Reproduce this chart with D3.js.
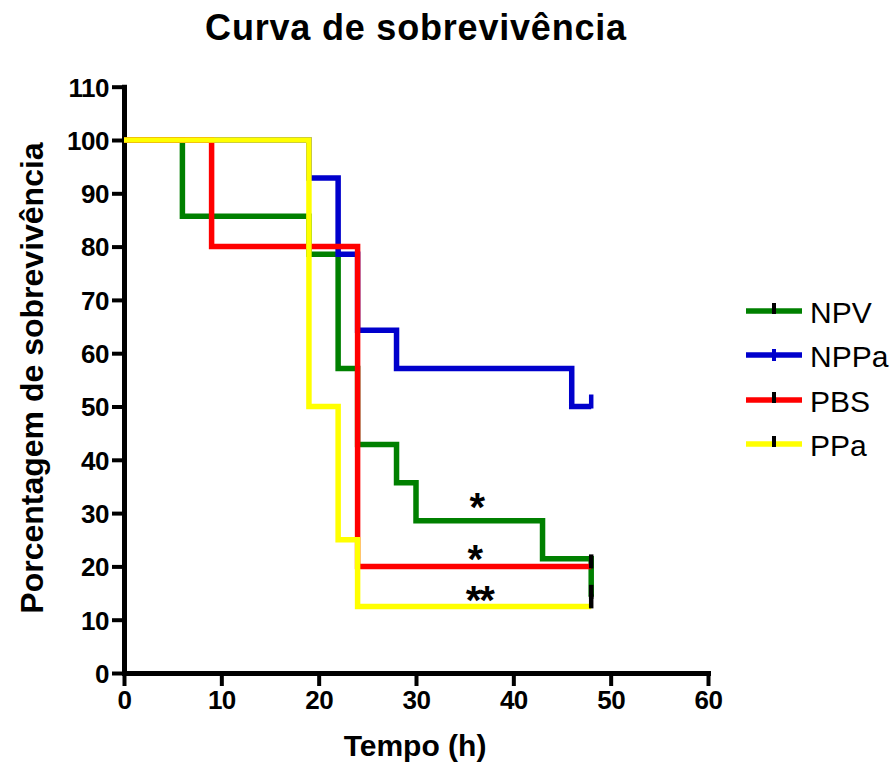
<!DOCTYPE html>
<html>
<head>
<meta charset="utf-8">
<script src="https://cdn.jsdelivr.net/npm/d3@7"></script>
<style>
  html, body { margin: 0; padding: 0; background: #fff; }
  svg { display: block; font-family: "Liberation Sans", Arial, sans-serif; }
</style>
</head>
<body>
<svg id="chart" width="894" height="764"></svg>
<script>
// ---- data ----
const seriesNames = ["NPV", "NPPa", "PBS", "PPa"];
const seriesColors = ["#008000", "#0000CC", "#FF0000", "#FFFF00"];
const censorColors = ["#000000", "#0000CC", "#000000", "#000000"];

const npvTimes = [0, 6, 19, 22, 24, 28, 30, 43, 48];
const npvSurv  = [100, 85.71, 78.57, 57.14, 42.86, 35.71, 28.57, 21.43, 14.29];
const nppaTimes = [0, 19, 22, 24, 28, 46, 48];
const nppaSurv  = [100, 92.86, 78.57, 64.29, 57.14, 50, 50];
const pbsTimes = [0, 9, 24, 48];
const pbsSurv  = [100, 80, 20, 20];
const ppaTimes = [0, 19, 22, 24, 48];
const ppaSurv  = [100, 50, 25, 12.5, 12.5];

const censorTimes = [48, 48, 48, 48];
const censorSurv  = [14.29, 50, 20, 12.5];

const xTicks = [0, 10, 20, 30, 40, 50, 60];
const yTicks = [0, 10, 20, 30, 40, 50, 60, 70, 80, 90, 100, 110];

const sigLabels = ["*", "*", "**"];
const sigTimes = [36.2, 36.0, 36.5];
const sigSurv  = [32.5, 22.7, 15.0];

// ---- chart ----
const svg = d3.select("#chart");
const x = d3.scaleLinear().domain([0, 60]).range([124, 708]);
const y = d3.scaleLinear().domain([0, 110]).range([673, 86.7]);

const allTimes = [npvTimes, nppaTimes, pbsTimes, ppaTimes];
const allSurv = [npvSurv, nppaSurv, pbsSurv, ppaSurv];
const series = seriesNames.map((n, i) => ({
  name: n, color: seriesColors[i], censorColor: censorColors[i],
  pts: allTimes[i].map((t, j) => [t, allSurv[i][j]]),
  censor: [censorTimes[i], censorSurv[i]]
}));

// title
svg.append("text").attr("x", 416).attr("y", 40).attr("text-anchor", "middle")
  .attr("font-size", 36).attr("font-weight", "bold").attr("letter-spacing", 0.8)
  .text("Curva de sobrevivência");

// axes
const xAxis = d3.axisBottom(x).tickValues(xTicks).tickSize(13).tickSizeOuter(0).tickPadding(4);
const yAxis = d3.axisLeft(y).tickValues(yTicks).tickSize(12).tickSizeOuter(0).tickPadding(3);

const gx = svg.append("g").attr("transform", "translate(0,673)").call(xAxis);
const gy = svg.append("g").attr("transform", "translate(124,0)").call(yAxis);
[gx, gy].forEach(g => {
  g.select(".domain").attr("stroke", "#000").attr("stroke-width", 5).attr("stroke-linecap", "square");
  g.selectAll(".tick line").attr("stroke", "#000").attr("stroke-width", 4);
  g.selectAll(".tick text").attr("font-size", 26).attr("font-weight", "bold")
    .attr("fill", "#000").attr("font-family", "Liberation Sans, Arial, sans-serif")
    .attr("letter-spacing", -0.5);
});
gy.selectAll(".tick text").attr("dy", "0.36em");
gx.selectAll(".tick text").attr("dy", "0.74em");

// axis titles
svg.append("text").attr("x", 415).attr("y", 756).attr("text-anchor", "middle")
  .attr("font-size", 30).attr("font-weight", "bold").text("Tempo (h)");
svg.append("text").attr("transform", "translate(43,378) rotate(-90)").attr("text-anchor", "middle")
  .attr("font-size", 32).attr("font-weight", "bold").text("Porcentagem de sobrevivência");

// curves
const line = d3.line().x(d => x(d[0])).y(d => y(d[1])).curve(d3.curveStepAfter);
series.forEach(s => {
  svg.append("path").attr("d", line(s.pts)).attr("fill", "none")
    .attr("stroke", s.color).attr("stroke-width", 5.5).attr("stroke-linejoin", "miter");
});

// censor marks
series.forEach(s => {
  const cx = x(s.censor[0]), cy = y(s.censor[1]);
  svg.append("line").attr("x1", cx).attr("x2", cx)
    .attr("y1", cy - 12).attr("y2", cy + 2)
    .attr("stroke", s.censorColor).attr("stroke-width", 4.5);
});

// significance
sigLabels.forEach((l, i) => {
  svg.append("text").attr("x", x(sigTimes[i])).attr("y", y(sigSurv[i]) + 21)
    .attr("text-anchor", "middle").attr("font-size", 40).attr("font-weight", "bold")
    .attr("letter-spacing", -2).text(l);
});

// legend
const legY = [311, 355, 400, 444];
series.forEach((s, i) => {
  const g = svg.append("g").attr("transform", `translate(0,${legY[i]})`);
  g.append("line").attr("x1", 746).attr("x2", 802).attr("y1", 0).attr("y2", 0)
    .attr("stroke", s.color).attr("stroke-width", 5.5);
  g.append("line").attr("x1", 774).attr("x2", 774).attr("y1", i === 1 ? -6 : -8).attr("y2", i === 1 ? 6 : 3)
    .attr("stroke", s.censorColor).attr("stroke-width", 4);
  g.append("text").attr("x", 810).attr("y", 12).attr("font-size", 30).text(s.name);
});
</script>
</body>
</html>
